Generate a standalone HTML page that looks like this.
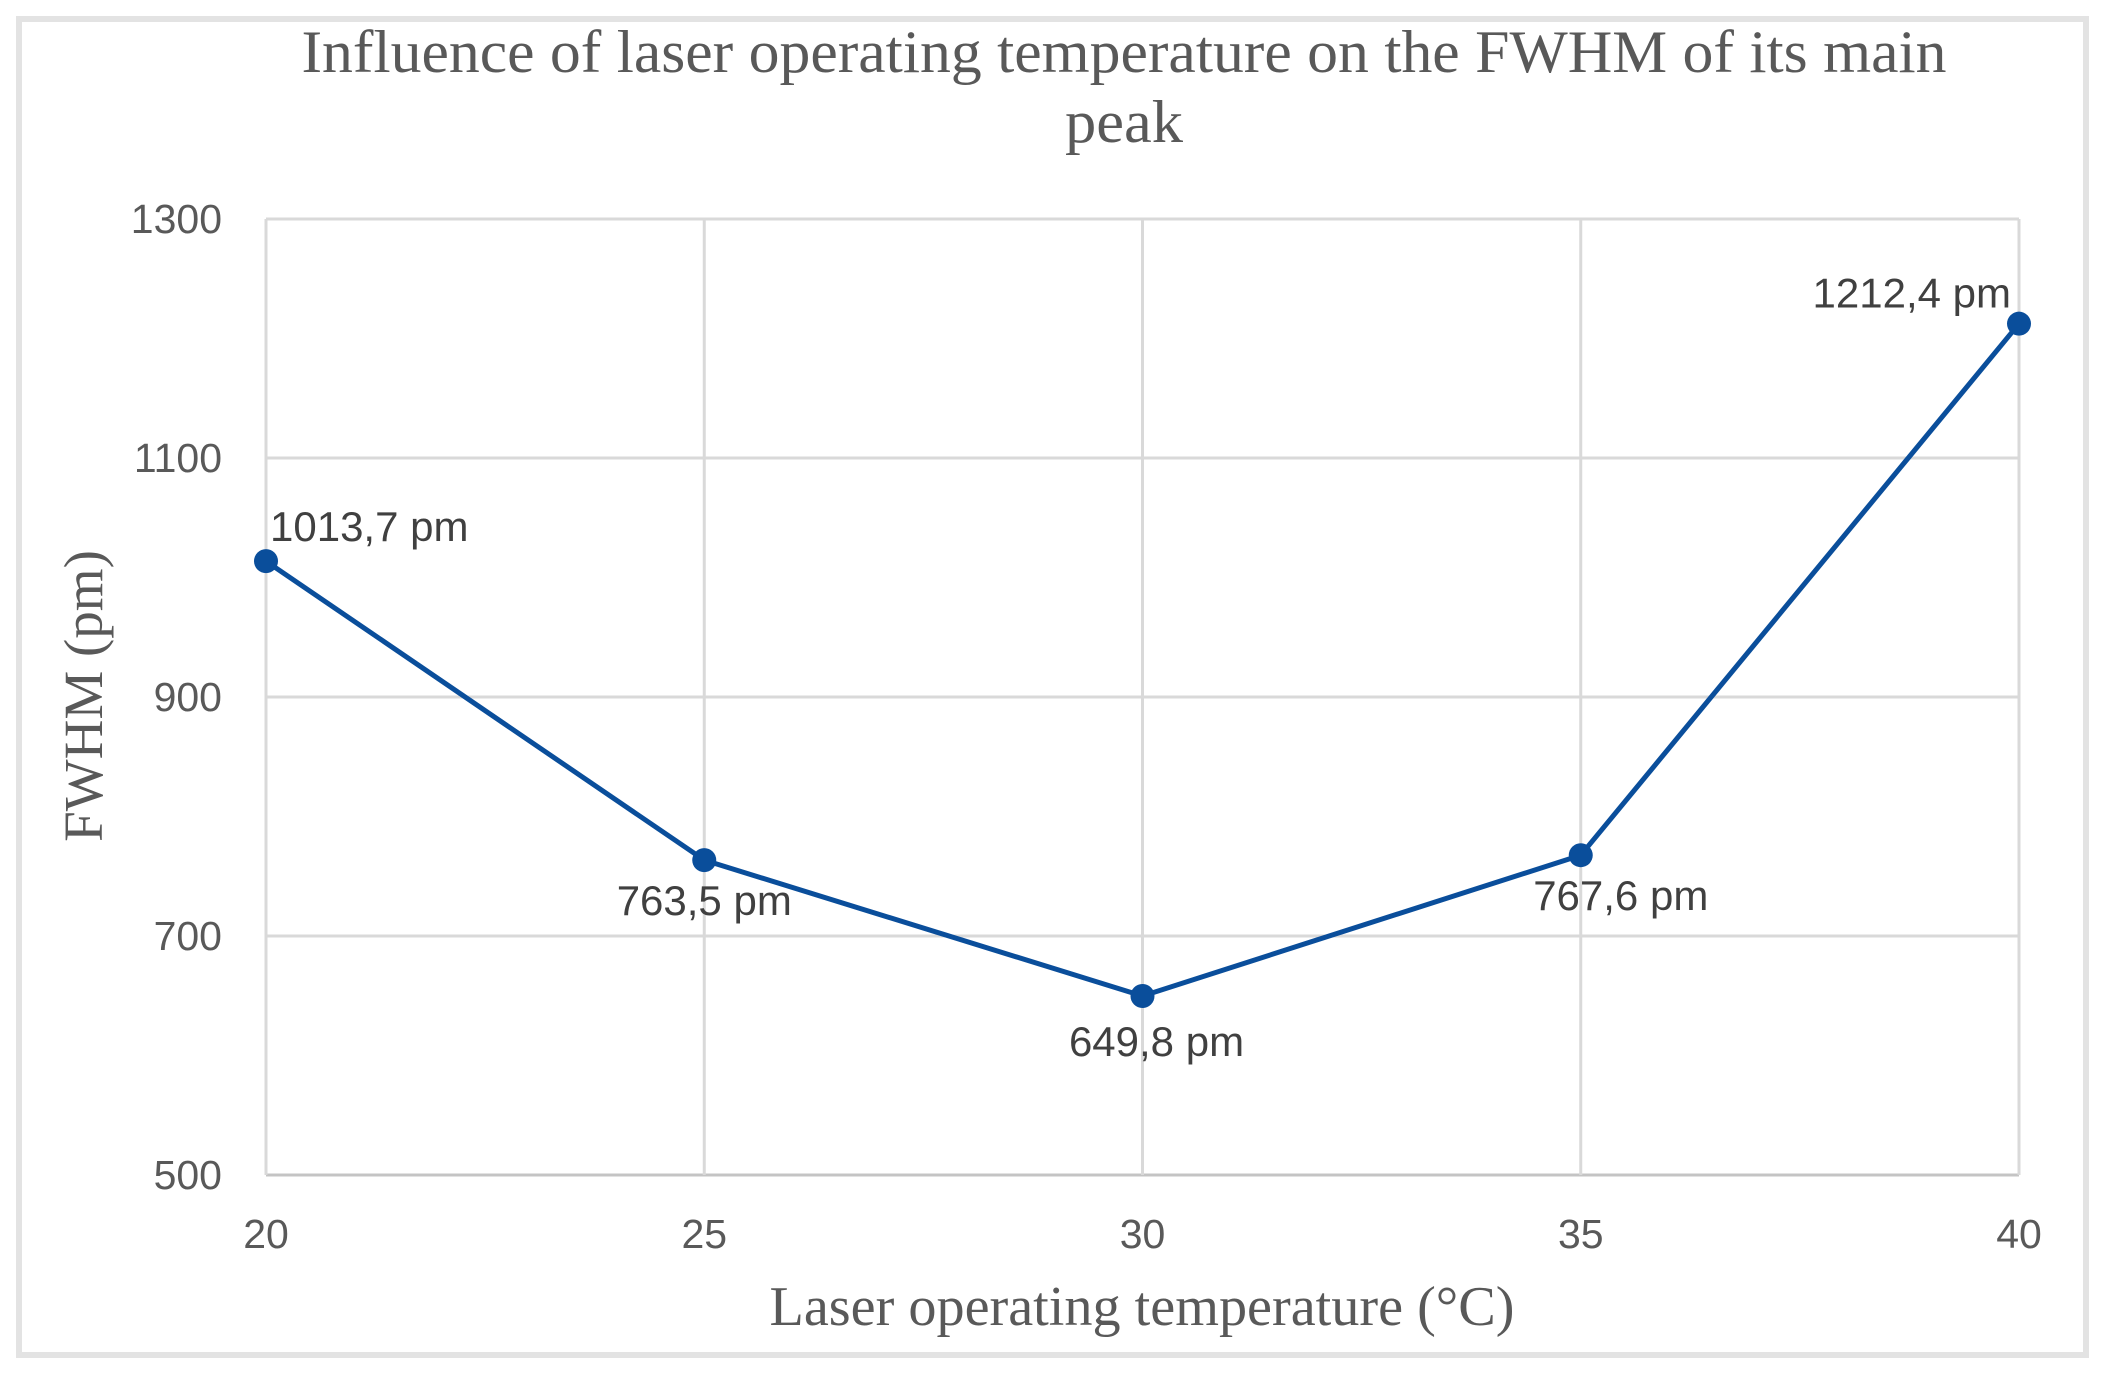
<!DOCTYPE html>
<html><head><meta charset="utf-8"><style>
html,body{margin:0;padding:0;background:#fff}
svg{display:block}
</style></head><body>
<svg width="2108" height="1378" viewBox="0 0 2108 1378" xmlns="http://www.w3.org/2000/svg">
<rect x="19" y="19" width="2067" height="1336" fill="#fff" stroke="#e3e3e3" stroke-width="6"/>
<g font-family="Liberation Serif, serif" fill="#595959">
<text x="1124" y="72" font-size="60" text-anchor="middle" textLength="1645" lengthAdjust="spacingAndGlyphs">Influence of laser operating temperature on the FWHM of its main</text>
<text x="1124" y="142" font-size="60" text-anchor="middle" textLength="118" lengthAdjust="spacingAndGlyphs">peak</text>
<text x="1142" y="1325" font-size="56" text-anchor="middle" textLength="745" lengthAdjust="spacingAndGlyphs">Laser operating temperature (°C)</text>
<text transform="translate(102,696) rotate(-90)" font-size="55" text-anchor="middle">FWHM (pm)</text>
</g>
<g id="grid"></g>
<g id="marks"></g>
</svg>
<script>
const categories = [20, 25, 30, 35, 40];
const fwhmValues = [1013.7, 763.5, 649.8, 767.6, 1212.4];
const valueLabels = ["1013,7 pm", "763,5 pm", "649,8 pm", "767,6 pm", "1212,4 pm"];
const yTicks = [500, 700, 900, 1100, 1300];

const L = 266, R = 2019, T = 219, B = 1175;
const xScale = v => L + (v - 20) / 20 * (R - L);
const yScale = v => B - (v - 500) / 800 * (B - T);
const NS = "http://www.w3.org/2000/svg";
const grid = document.getElementById('grid');
const marks = document.getElementById('marks');
function mk(tag, attrs, parent){const e=document.createElementNS(NS,tag);for(const k in attrs)e.setAttribute(k,attrs[k]);parent.appendChild(e);return e;}

yTicks.forEach(t=>{
  const y=yScale(t);
  const l=mk('line',{x1:L,x2:R,y1:y,y2:y,stroke: t===500?'#c4c4c4':'#d9d9d9','stroke-width':3},grid);
  
  
  const tx=mk('text',{x:222,y:y+14,'font-family':'Liberation Sans, sans-serif','font-size':41,fill:'#595959','text-anchor':'end'},grid);
  tx.textContent=t;
  
  
});
categories.forEach(c=>{
  const x=xScale(c);
  const l=mk('line',{x1:x,x2:x,y1:T,y2:B,stroke:'#d9d9d9','stroke-width':3},grid);
  
  
  const tx=mk('text',{x:x,y:1248,'font-family':'Liberation Sans, sans-serif','font-size':41,fill:'#595959','text-anchor':'middle'},grid);
  tx.textContent=c;
  
  
});

const pts=categories.map((c,i)=>xScale(c)+','+yScale(fwhmValues[i])).join(' ');
const pl=mk('polyline',{points:pts,fill:'none',stroke:'#0a4e9b','stroke-width':5,'stroke-linejoin':'round'},marks);



const offs=[[4,-20,'start'],[0,55,'middle'],[14,60,'middle'],[40,55,'middle'],[-8,-16,'end']];
categories.forEach((c,i)=>{
  const x=xScale(c), y=yScale(fwhmValues[i]);
  const p=mk('circle',{cx:x,cy:y,r:12,fill:'#0a4e9b'},marks);
  
  
  const o=offs[i];
  const t=mk('text',{x:x+o[0],y:y+o[1],'font-family':'Liberation Sans, sans-serif','font-size':42,fill:'#404040','text-anchor':o[2]},marks);
  t.textContent=valueLabels[i];
  
  
});
</script>
</body></html>
